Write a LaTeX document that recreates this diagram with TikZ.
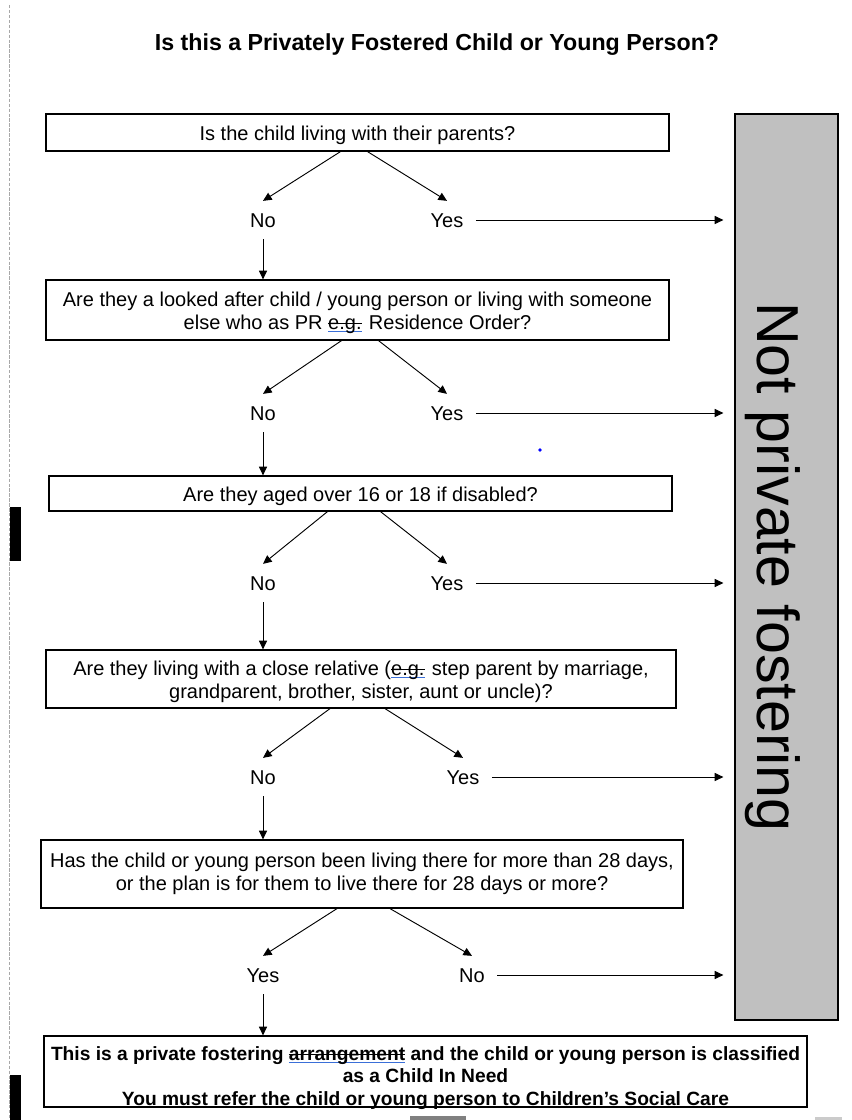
\documentclass[tikz,border=0pt]{standalone}
\usepackage{fontspec}
\setmainfont{Liberation Sans}
\usepackage{xcolor}
\definecolor{panelgray}{HTML}{C0C0C0}
\definecolor{markblue}{HTML}{3A6FD8}
\definecolor{edgegray}{HTML}{A8A8A8}
\usetikzlibrary{arrows.meta, positioning, calc}

% revision marks (strike-through + blue underline)
\newlength\revw
\newcommand\revmark[1]{\settowidth\revw{#1}%
  \rlap{\textcolor{markblue}{\rule[-2.2pt]{\revw}{0.8pt}}}%
  \rlap{\rule[3.8pt]{\revw}{0.6pt}}#1}

\tikzset{
    qbox/.style={draw, line width=0.9pt, align=center, inner sep=2pt,
        font=\fontsize{15}{17.25}\selectfont},
    lbl/.style={font=\fontsize{15}{17.25}\selectfont, inner sep=0pt,
        text height=10.7pt, text depth=0pt, outer xsep=9.5pt, outer ysep=9pt},
    arr/.style={-{Triangle[length=6.5pt, width=6pt]}, line width=0.7pt}
}

\begin{document}
\begin{tikzpicture}[x=0.75pt, y=-0.75pt]
    \useasboundingbox (0,0) rectangle (851,1120);
    % page edge bits
    \draw[edgegray, line width=0.6pt, dash pattern=on 2.5pt off 1.2pt] (9,5) -- (9,1120);
    \fill (10,507) rectangle (21,561);
    \fill (10,1075) rectangle (21,1120);
    \fill[blue] (540,450) circle (1.4pt);
    \fill[gray] (410,1116) rectangle (466,1120);
    \fill[edgegray!60] (815,1117) rectangle (842,1120);

    % title
    \node[font=\fontsize{17.4}{20}\selectfont\bfseries] (title) at (437,45)
        {Is this a Privately Fostered Child or Young Person?};

    % questions
    \node[qbox, minimum width=467.25pt, minimum height=27.75pt] (q1) at (357.5,132.5)
        {\rule{0pt}{15.2pt}Is the child living with their parents?};
    \node[qbox, minimum width=467.25pt, minimum height=45pt] (q2) at (357.5,310)
        {\rule{0pt}{14.5pt}Are they a looked after child / young person or living with someone\\
         else who as PR \revmark{e.g.} Residence Order?};
    \node[qbox, minimum width=467.25pt, minimum height=26.25pt] (q3) at (360.5,493.5)
        {\rule{0pt}{14.5pt}Are they aged over 16 or 18 if disabled?};
    \node[qbox, minimum width=472.5pt, minimum height=43.5pt] (q4) at (361,679)
        {\rule{0pt}{14.5pt}Are they living with a close relative (\revmark{e.g.} step parent by marriage,\\
         grandparent, brother, sister, aunt or uncle)?};
    \node[qbox, minimum width=481.5pt, minimum height=51pt] (q5) at (362,874)
        {Has the child or young person been living there for more than 28 days,\\
         or the plan is for them to live there for 28 days or more?};
    \node[qbox, minimum width=572.25pt, minimum height=53.25pt] (q6) at (425.5,1071.5) {};
    \node[align=center, inner sep=0pt, font=\fontsize{14.4}{17}\selectfont\bfseries]
        (q6txt) at (425.5,1078)
        {This is a private fostering \revmark{arrangement} and the child or young person is classified\\
         as a Child In Need\\
         You must refer the child or young person to Children's Social Care};

    % outcome panel
    \node[draw, line width=0.9pt, fill=panelgray, minimum width=77.25pt,
        minimum height=679.5pt] (notpf) at (786.5,567) {};
    \node[rotate=-90, font=\fontsize{44.4}{50}\selectfont] (notpftxt)
        at ($(notpf.center)+(-14,0)$) {Not private fostering};

    % answers
    \foreach \i/\y/\xr/\tl/\tr in {1/220/447/No/Yes, 2/413/447/No/Yes,
            3/583/447/No/Yes, 4/777/463/No/Yes, 5/975/472/Yes/No} {
        \node[lbl] (go\i) at (263,\y) {\tl};
        \node[lbl] (out\i) at (\xr,\y) {\tr};
    }

    % connectors
    \foreach \i/\dl/\dr in {1/-17/10, 2/-16/21, 3/-33/20, 4/-31/24, 5/-25/28} {
        \draw[arr] ($(q\i.south)+(\dl,0)$) -- (go\i.north);
        \draw[arr] ($(q\i.south)+(\dr,0)$) -- (out\i.north);
        \draw[arr] (out\i.east) -- ($(out\i.east -| notpf.west)+(-11,0)$);
    }
    \foreach \i/\j in {1/2, 2/3, 3/4, 4/5, 5/6} {
        \draw[arr] (go\i.south) -- (go\i.south |- q\j.north);
    }
\end{tikzpicture}
\end{document}
